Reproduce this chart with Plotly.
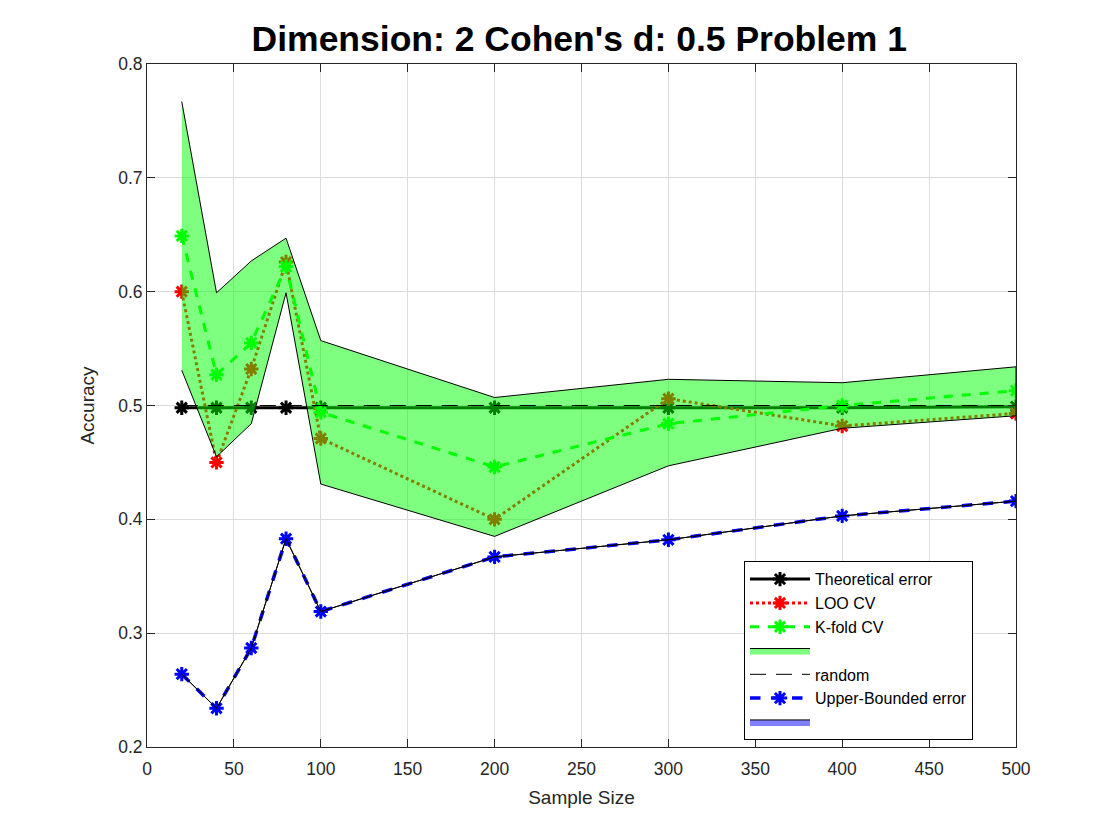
import plotly.graph_objects as go

# sample sizes on the x axis
sample_size = [20, 40, 60, 80, 100, 200, 300, 400, 500]

# accuracy series
theoretical = [0.498, 0.498, 0.498, 0.498, 0.498, 0.498, 0.498, 0.498, 0.499]
loo_cv = [0.600, 0.450, 0.532, 0.626, 0.471, 0.400, 0.506, 0.482, 0.493]
kfold_cv = [0.649, 0.527, 0.555, 0.622, 0.494, 0.446, 0.484, 0.500, 0.513]
kfold_upper = [0.767, 0.599, 0.627, 0.647, 0.557, 0.507, 0.523, 0.520, 0.534]
kfold_lower = [0.531, 0.455, 0.484, 0.599, 0.431, 0.385, 0.447, 0.480, 0.491]
random_acc = [0.5, 0.5, 0.5, 0.5, 0.5, 0.5, 0.5, 0.5, 0.5]
upper_bounded = [0.264, 0.234, 0.287, 0.383, 0.319, 0.367, 0.382, 0.403, 0.416]

font = "Liberation Sans, Arial, Helvetica, sans-serif"
mk = dict(symbol="asterisk-open", size=12)

fig = go.Figure()

fig.add_trace(go.Scatter(
    x=sample_size, y=theoretical, mode="lines+markers", name="Theoretical error",
    line=dict(color="black", width=3),
    marker=dict(**mk, line=dict(color="black", width=3))))

fig.add_trace(go.Scatter(
    x=sample_size, y=loo_cv, mode="lines+markers", name="LOO CV",
    line=dict(color="#ff0000", width=3, dash="dot"),
    marker=dict(**mk, line=dict(color="#ff0000", width=3))))

fig.add_trace(go.Scatter(
    x=sample_size, y=kfold_cv, mode="lines+markers", name="K-fold CV",
    line=dict(color="#00ff00", width=3, dash="dash"),
    marker=dict(**mk, line=dict(color="#00ff00", width=3))))

# shaded band for the k-fold spread
fig.add_trace(go.Scatter(
    x=sample_size + sample_size[::-1], y=kfold_upper + kfold_lower[::-1],
    mode="lines", fill="toself", fillcolor="rgba(0,255,0,0.5)", name=" ",
    line=dict(color="black", width=1)))

fig.add_trace(go.Scatter(
    x=sample_size, y=random_acc, mode="lines", name="random",
    line=dict(color="black", width=1, dash="16px,10px")))

fig.add_trace(go.Scatter(
    x=sample_size, y=upper_bounded, mode="lines+markers", name="Upper-Bounded error",
    line=dict(color="#0000ff", width=3.5, dash="dash"),
    marker=dict(**mk, line=dict(color="#0000ff", width=3))))

# zero-width band around the upper bound
fig.add_trace(go.Scatter(
    x=sample_size + sample_size[::-1], y=upper_bounded + upper_bounded[::-1],
    mode="lines", fill="toself", fillcolor="rgba(0,0,255,0.5)", name=" ",
    line=dict(color="black", width=1)))

axis_common = dict(
    showline=True, linecolor="#262626", linewidth=1, mirror="ticks",
    ticks="inside", ticklen=8, tickcolor="#262626",
    showgrid=True, gridcolor="#dcdcdc", gridwidth=1, zeroline=False,
    tickfont=dict(size=17.5, color="#262626", family=font),
)

fig.update_xaxes(range=[0, 500], dtick=50, tick0=0, ticklabelstandoff=6,
                 title=dict(text="Sample Size", font=dict(size=19, color="#262626", family=font), standoff=12),
                 **axis_common)
fig.update_yaxes(range=[0.2, 0.8], dtick=0.1, tick0=0.2, tickformat=".1f",
                 title=dict(text="Accuracy", font=dict(size=19, color="#262626", family=font), standoff=18),
                 **axis_common)

fig.update_layout(
    width=1120, height=840,
    margin=dict(l=139, r=112, t=56, b=101),
    paper_bgcolor="white", plot_bgcolor="white",
    font=dict(family=font, color="black"),
    title=dict(text="<b>Dimension: 2 Cohen's d: 0.5 Problem 1</b>", x=0.5101, xanchor="center",
               y=0.964, yanchor="middle", font=dict(size=35.5, color="black", family=font)),
    legend=dict(x=0.687, y=0.272, xanchor="left", yanchor="top",
                bgcolor="white", bordercolor="black", borderwidth=1,
                font=dict(size=16, color="black", family=font),
                tracegroupgap=0, itemwidth=60),
    showlegend=True,
)

fig.write_html("out.html")
